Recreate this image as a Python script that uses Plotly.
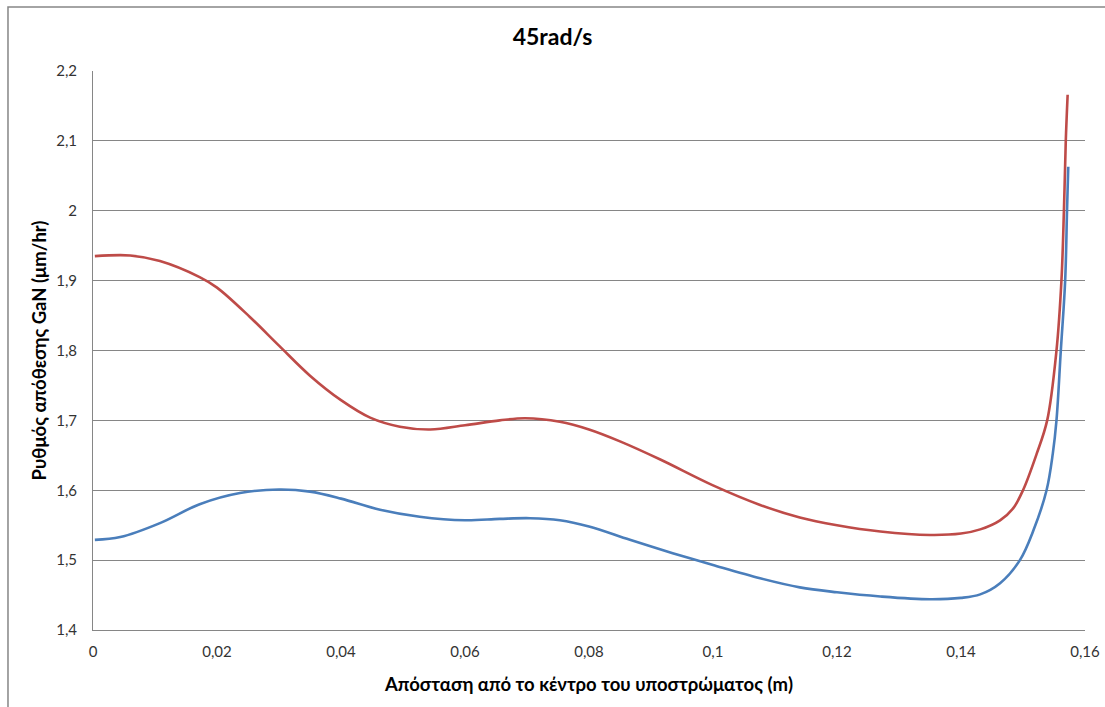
import plotly.graph_objects as go

x_red = [0.0003, 0.006, 0.0108, 0.0172, 0.02, 0.0253, 0.030, 0.035, 0.040, 0.0447, 0.0495, 0.0544,
         0.060, 0.0656, 0.0697, 0.0753, 0.080, 0.085, 0.0915, 0.100, 0.1076, 0.114, 0.120, 0.127,
         0.135, 0.140, 0.1431, 0.1463, 0.1484, 0.1500, 0.1522, 0.1539, 0.1554, 0.1562, 0.1566,
         0.1569, 0.1572]
y_red = [1.935, 1.936, 1.928, 1.905, 1.890, 1.848, 1.807, 1.764, 1.729, 1.704, 1.691, 1.687,
         1.693, 1.700, 1.703, 1.698, 1.687, 1.670, 1.644, 1.607, 1.579, 1.561, 1.550, 1.541,
         1.536, 1.538, 1.544, 1.557, 1.574, 1.600, 1.652, 1.700, 1.800, 1.900, 2.000,
         2.100, 2.166]

x_blue = [0.0003, 0.0044, 0.0108, 0.0172, 0.0237, 0.030, 0.035, 0.040, 0.0463, 0.0527, 0.060,
          0.0656, 0.0705, 0.0753, 0.080, 0.0866, 0.0935, 0.100, 0.1076, 0.114, 0.120, 0.127,
          0.135, 0.140, 0.1431, 0.1463, 0.1495, 0.1517, 0.1538, 0.1548, 0.1554, 0.1561, 0.1568,
          0.1571, 0.1573]
y_blue = [1.529, 1.533, 1.553, 1.580, 1.596, 1.601, 1.598, 1.588, 1.572, 1.562, 1.557,
          1.559, 1.560, 1.557, 1.548, 1.529, 1.510, 1.493, 1.474, 1.461, 1.454, 1.448,
          1.444, 1.446, 1.451, 1.467, 1.500, 1.543, 1.600, 1.652, 1.700, 1.800, 1.900,
          2.000, 2.063]

x_ticks = [0, 0.02, 0.04, 0.06, 0.08, 0.1, 0.12, 0.14, 0.16]
x_labels = ["0", "0,02", "0,04", "0,06", "0,08", "0,1", "0,12", "0,14", "0,16"]
y_ticks = [1.4, 1.5, 1.6, 1.7, 1.8, 1.9, 2.0, 2.1, 2.2]
y_labels = ["1,4", "1,5", "1,6", "1,7", "1,8", "1,9", "2", "2,1", "2,2"]

FONT = "Lato, 'Open Sans', sans-serif"

fig = go.Figure()
fig.add_trace(go.Scatter(x=x_blue, y=y_blue, mode="lines",
                         line=dict(color="#4A7EBB", width=2.6, shape="spline", smoothing=1.0),
                         showlegend=False, hoverinfo="skip"))
fig.add_trace(go.Scatter(x=x_red, y=y_red, mode="lines",
                         line=dict(color="#BE4B48", width=2.6, shape="spline", smoothing=1.0),
                         showlegend=False, hoverinfo="skip"))

fig.update_layout(
    width=1105, height=707,
    margin=dict(l=93, r=20, t=71, b=77, autoexpand=False),
    paper_bgcolor="white", plot_bgcolor="white",
    font=dict(family=FONT, size=15, color="#333"),
    title=dict(text="<b>45rad/s</b>", x=0.5, xanchor="center", y=1 - 37 / 707, yanchor="middle",
               font=dict(family=FONT, size=23, color="black")),
    xaxis=dict(range=[0, 0.16], tickvals=x_ticks, ticktext=x_labels, showgrid=False,
               showline=True, linecolor="#868686", linewidth=1, ticks="", zeroline=False,
               tickfont=dict(size=15, color="#333"), ticklabelstandoff=8, automargin=False,
               title=dict(text="<b>Απόσταση από το κέντρο του υποστρώματος (m)</b>", standoff=19,
                          font=dict(family=FONT, size=18.5, color="black"))),
    yaxis=dict(range=[1.4, 2.2], tickvals=y_ticks, ticktext=y_labels, showgrid=True,
               gridcolor="#868686", gridwidth=1, showline=True, linecolor="#868686", linewidth=1,
               ticks="", zeroline=False, tickfont=dict(size=15, color="#333"),
               ticklabelstandoff=12, automargin=False,
               title=dict(text="<b>Ρυθμός απόθεσης GaN (μm/hr)</b>", standoff=4,
                          font=dict(family=FONT, size=18.5, color="black"))),
    shapes=[dict(type="rect", xref="paper", yref="paper", x0=-0.0857, x1=1.2, y0=-0.3, y1=1.1145,
                 line=dict(color="#868686", width=1.5), fillcolor="rgba(0,0,0,0)", layer="below")],
)

fig.write_html("out.html")
